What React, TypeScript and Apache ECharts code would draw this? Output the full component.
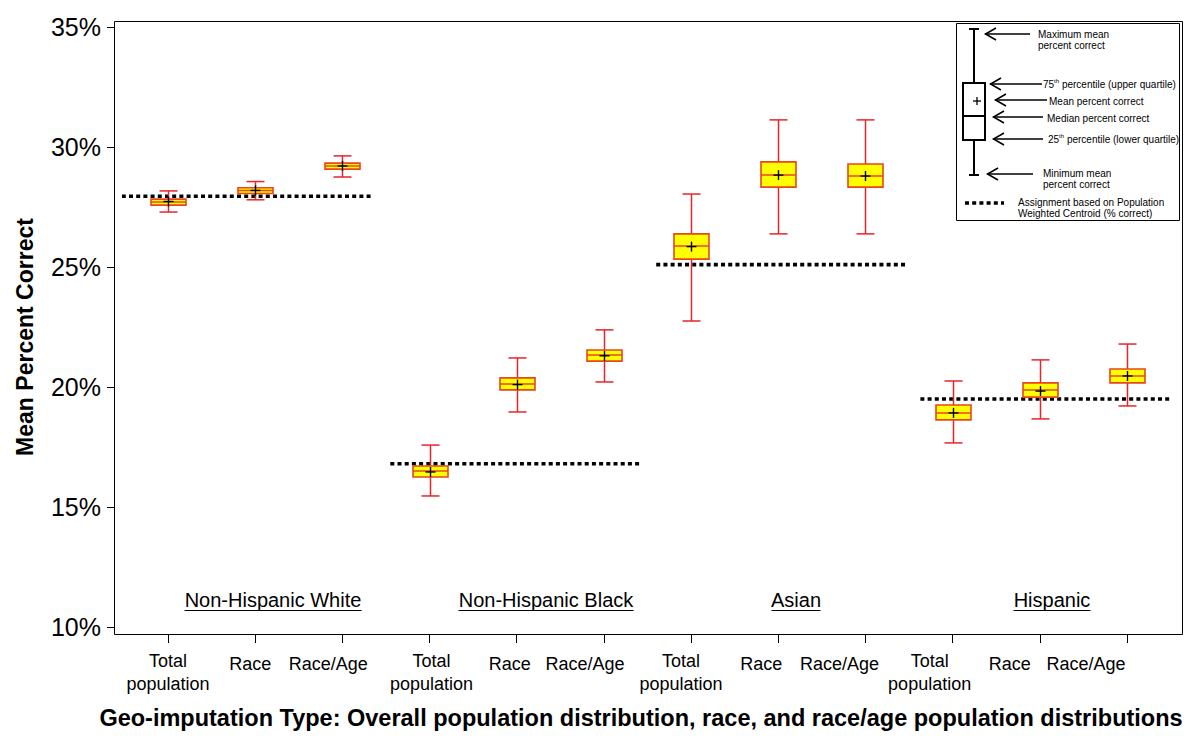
import React, { useEffect, useRef } from "react";
import * as echarts from "echarts";

const FONT = '"Liberation Sans", Arial, Helvetica, sans-serif';

// ---- data ----
const groups = ["Non-Hispanic White", "Non-Hispanic Black", "Asian", "Hispanic"];
const types = ["Total population", "Race", "Race/Age"];
const categories = groups.flatMap((g) => types.map((t) => g + "|" + t));

const minVals = [27.29, 27.8, 28.75, 15.46, 18.96, 20.21, 22.75, 26.38, 26.38, 17.67, 18.67, 19.21];
const q1Vals = [27.58, 28.06, 29.08, 16.25, 19.88, 21.08, 25.33, 28.33, 28.33, 18.63, 19.58, 20.17];
const medianVals = [27.71, 28.19, 29.21, 16.5, 20.13, 21.33, 25.88, 28.83, 28.79, 18.92, 19.88, 20.46];
const q3Vals = [27.83, 28.3, 29.33, 16.71, 20.38, 21.54, 26.38, 29.38, 29.29, 19.25, 20.17, 20.75];
const maxVals = [28.17, 28.56, 29.63, 17.58, 21.21, 22.38, 28.04, 31.13, 31.13, 20.25, 21.13, 21.79];
const meanVals = [27.73, 28.19, 29.21, 16.46, 20.1, 21.3, 25.85, 28.83, 28.79, 18.92, 19.83, 20.46];

// population weighted centroid assignment (% correct), one per group
const centroidVals = [27.95, 16.8, 25.1, 19.5];
const centroidFrom = [-0.53, 2.55, 5.6, 8.63];
const centroidTo = [2.35, 5.44, 8.46, 11.5];

const yTicks = { min: 10, max: 35, interval: 5 };

// ---- layout / style ----
const labelShift = [0, -5, -14, 2, -7, -19, -10, -17, -26, -23, -30, -41];
const groupLabelX = [273, 546, 796, 1052];
const groupLabelW = [177, 175, 49, 77];

const BOX_STROKE = "#e8461e";
const WHISKER = "#e8242a";

export default function App() {
  const ref = useRef<HTMLDivElement>(null);

  useEffect(() => {
    if (!ref.current) return;
    const chart = echarts.init(ref.current, null, { renderer: "svg" });

    const boxData = categories.map((_, i) => [
      i,
      minVals[i],
      q1Vals[i],
      medianVals[i],
      q3Vals[i],
      maxVals[i],
      meanVals[i],
    ]);

    const renderItem = (params: any, api: any) => {
      const x = api.value(0);
      const pMin = api.coord([x, api.value(1)]);
      const pQ1 = api.coord([x, api.value(2)]);
      const pMed = api.coord([x, api.value(3)]);
      const pQ3 = api.coord([x, api.value(4)]);
      const pMax = api.coord([x, api.value(5)]);
      const pMean = api.coord([x, api.value(6)]);
      const cx = Math.round(pMin[0]) + 0.5;
      const bw = 35;
      const cw = 18;
      const ws = { stroke: WHISKER, lineWidth: 1.5 };
      return {
        type: "group",
        children: [
          { type: "line", shape: { x1: cx, y1: pMax[1], x2: cx, y2: pQ3[1] }, style: ws },
          { type: "line", shape: { x1: cx, y1: pQ1[1], x2: cx, y2: pMin[1] }, style: ws },
          { type: "line", shape: { x1: cx - cw / 2, y1: pMax[1], x2: cx + cw / 2, y2: pMax[1] }, style: ws },
          { type: "line", shape: { x1: cx - cw / 2, y1: pMin[1], x2: cx + cw / 2, y2: pMin[1] }, style: ws },
          {
            type: "rect",
            shape: { x: cx - bw / 2, y: pQ3[1], width: bw, height: pQ1[1] - pQ3[1] },
            style: { fill: "#ffff00", stroke: BOX_STROKE, lineWidth: 1.6 },
          },
          {
            type: "line",
            shape: { x1: cx - bw / 2, y1: pMed[1], x2: cx + bw / 2, y2: pMed[1] },
            style: { stroke: BOX_STROKE, lineWidth: 1.5 },
          },
          {
            type: "line",
            shape: { x1: cx - 5, y1: pMean[1], x2: cx + 5, y2: pMean[1] },
            style: { stroke: "#000", lineWidth: 1.4 },
          },
          {
            type: "line",
            shape: { x1: cx, y1: pMean[1] - 5, x2: cx, y2: pMean[1] + 5 },
            style: { stroke: "#000", lineWidth: 1.4 },
          },
        ],
      };
    };

    const centroidSeries = centroidVals.map((v, g) => ({
      type: "line",
      xAxisIndex: 1,
      yAxisIndex: 0,
      symbol: "none",
      silent: true,
      z: 1,
      lineStyle: { color: "#000", width: 3.6, type: [4, 3.2], cap: "butt" },
      data: [
        [centroidFrom[g], v],
        [centroidTo[g], v],
      ],
    }));

    const txt = (
      x: number,
      y: number,
      text: string,
      size: number,
      extra: any = {}
    ) => ({
      type: "text",
      x,
      y,
      silent: true,
      style: {
        text,
        fontSize: size,
        fontFamily: FONT,
        fill: "#000",
        align: extra.align || "left",
        textAlign: extra.align || "left",
        verticalAlign: extra.verticalAlign || "middle",
        textVerticalAlign: extra.verticalAlign || "middle",
        fontWeight: extra.fontWeight || "normal",
        lineHeight: extra.lineHeight,
        rich: extra.rich,
      },
      rotation: extra.rotation || 0,
    });

    const arrow = (tip: number, end: number, y: number) => [
      {
        type: "line",
        silent: true,
        shape: { x1: tip, y1: y, x2: end, y2: y },
        style: { stroke: "#000", lineWidth: 1.5 },
      },
      {
        type: "polyline",
        silent: true,
        shape: { points: [[tip + 11, y - 6], [tip + 0.5, y], [tip + 11, y + 6]] },
        style: { stroke: "#000", lineWidth: 1.5, fill: "none" },
      },
    ];

    const supRich = {
      n: { fontSize: 10, fontFamily: FONT, fill: "#000", lineHeight: 12 },
      s: { fontSize: 6, fontFamily: FONT, fill: "#000", verticalAlign: "top", lineHeight: 12 },
    };

    const legendEls: any[] = [
      {
        type: "rect",
        silent: true,
        shape: { x: 956.5, y: 23.5, width: 223, height: 197 },
        style: { fill: "#fff", stroke: "#000", lineWidth: 1 },
      },
      // glyph
      { type: "line", silent: true, shape: { x1: 974, y1: 29, x2: 974, y2: 83 }, style: { stroke: "#000", lineWidth: 2 } },
      { type: "line", silent: true, shape: { x1: 969, y1: 29, x2: 979, y2: 29 }, style: { stroke: "#000", lineWidth: 2 } },
      { type: "rect", silent: true, shape: { x: 963, y: 83, width: 22, height: 57 }, style: { fill: "#fff", stroke: "#000", lineWidth: 2 } },
      { type: "line", silent: true, shape: { x1: 963, y1: 116, x2: 985, y2: 116 }, style: { stroke: "#000", lineWidth: 2 } },
      { type: "line", silent: true, shape: { x1: 974, y1: 140, x2: 974, y2: 175 }, style: { stroke: "#000", lineWidth: 2 } },
      { type: "line", silent: true, shape: { x1: 969, y1: 175, x2: 979, y2: 175 }, style: { stroke: "#000", lineWidth: 2 } },
      { type: "line", silent: true, shape: { x1: 973, y1: 101, x2: 981, y2: 101 }, style: { stroke: "#000", lineWidth: 1.3 } },
      { type: "line", silent: true, shape: { x1: 977, y1: 97, x2: 977, y2: 105 }, style: { stroke: "#000", lineWidth: 1.3 } },
      ...arrow(985, 1030, 34),
      ...arrow(990, 1042, 84),
      ...arrow(995, 1047, 100),
      ...arrow(993, 1043, 117),
      ...arrow(993, 1043, 139),
      ...arrow(987, 1033, 174),
      txt(1038, 40, "Maximum mean\npercent correct", 10, { lineHeight: 11.5 }),
      txt(1043, 84, "{n|75}{s|th}{n| percentile (upper quartile)}", 10, { rich: supRich }),
      txt(1049, 101, "Mean percent correct", 10),
      txt(1047, 118, "Median percent correct", 10),
      txt(1048, 139, "{n|25}{s|th}{n| percentile (lower quartile)}", 10, { rich: supRich }),
      txt(1043, 179, "Minimum mean\npercent correct", 10, { lineHeight: 11.5 }),
      {
        type: "line",
        silent: true,
        shape: { x1: 965, y1: 203, x2: 1004, y2: 203 },
        style: { stroke: "#000", lineWidth: 3.6, lineDash: [4, 3.2] },
      },
      txt(1018, 208, "Assignment based on Population\nWeighted Centroid (% correct)", 10, { lineHeight: 11.5 }),
    ];

    const groupEls: any[] = [];
    groups.forEach((g, i) => {
      groupEls.push(txt(groupLabelX[i], 600, g, 20, { align: "center" }));
      groupEls.push({
        type: "line",
        silent: true,
        shape: {
          x1: groupLabelX[i] - groupLabelW[i] / 2,
          y1: 610.5,
          x2: groupLabelX[i] + groupLabelW[i] / 2,
          y2: 610.5,
        },
        style: { stroke: "#000", lineWidth: 1 },
      });
    });

    const rich: any = {};
    labelShift.forEach((s, i) => {
      const single = i % 3 !== 0;
      rich["c" + i] = {
        fontSize: 18,
        fontFamily: FONT,
        color: "#000",
        lineHeight: 23,
        padding: [single ? 7 : 0, s < 0 ? -2 * s : 0, 0, s > 0 ? 2 * s : 0],
      };
    });

    chart.setOption({
      animation: false,
      backgroundColor: "#fff",
      textStyle: { fontFamily: FONT },
      grid: {
        left: 124.4,
        right: 29.4,
        top: 27,
        bottom: 114,
        containLabel: false,
        outerBoundsMode: "none",
      },
      xAxis: [
        {
          type: "category",
          data: categories,
          boundaryGap: true,
          position: "bottom",
          offset: 7,
          axisLine: { show: false, onZero: false },
          axisTick: { show: true, alignWithLabel: true, length: 9, lineStyle: { color: "#000", width: 1 } },
          axisLabel: {
            interval: 0,
            margin: 15,
            hideOverlap: false,
            formatter: (value: string, index: number) => {
              const t = value.split("|")[1];
              const key = "c" + index;
              if (t === "Total population") return `{${key}|Total}\n{${key}|population}`;
              return `{${key}|${t}}`;
            },
            rich,
          },
          splitLine: { show: false },
        },
        {
          type: "value",
          min: -0.5,
          max: 11.5,
          show: false,
          axisLine: { onZero: false },
        },
      ],
      yAxis: {
        type: "value",
        min: yTicks.min,
        max: yTicks.max,
        interval: yTicks.interval,
        position: "left",
        offset: 10.4,
        axisLine: { show: false, onZero: false },
        axisTick: { show: true, length: 7, lineStyle: { color: "#000", width: 1 } },
        axisLabel: {
          formatter: (v: number) => v + "%",
          fontSize: 25,
          color: "#000",
          fontFamily: FONT,
          margin: 13,
        },
        splitLine: { show: false },
      },
      series: [
        ...centroidSeries,
        {
          type: "custom",
          xAxisIndex: 0,
          yAxisIndex: 0,
          z: 3,
          silent: true,
          renderItem,
          encode: { x: 0, y: [1, 2, 3, 4, 5, 6] },
          data: boxData,
        },
      ],
      graphic: {
        elements: [
          {
            type: "rect",
            silent: true,
            z: 0,
            shape: { x: 114.5, y: 21.5, width: 1068, height: 613 },
            style: { fill: "none", stroke: "#000", lineWidth: 1 },
          },
          ...groupEls,
          ...legendEls,
          txt(25, 337, "Mean Percent Correct", 23, {
            align: "center",
            fontWeight: "bold",
            rotation: Math.PI / 2,
          }),
          txt(641, 718, "Geo-imputation Type: Overall population distribution, race, and race/age population distributions", 23.5, {
            align: "center",
            fontWeight: "bold",
          }),
        ],
      },
    });

    return () => chart.dispose();
  }, []);

  return (
    <div
      ref={ref}
      style={{ position: "absolute", left: 0, top: 0, width: 1200, height: 741, background: "#fff" }}
    />
  );
}
